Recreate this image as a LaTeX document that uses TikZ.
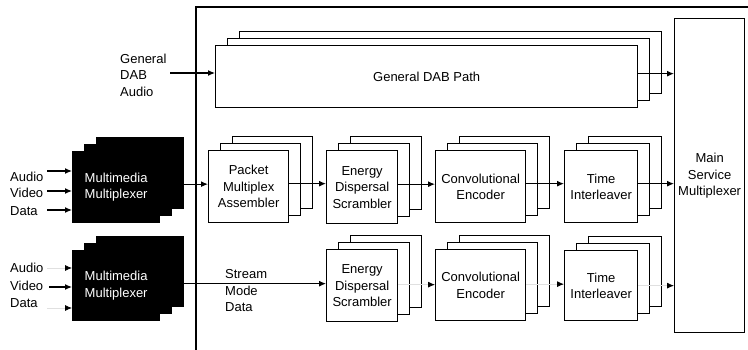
\documentclass[tikz,border=0pt]{standalone}
\usepackage{fontspec}
\setmainfont{Liberation Sans}
\usetikzlibrary{arrows.meta,shadows}
\begin{document}
\begin{tikzpicture}[x=1pt,y=-1pt,
  txt/.style={font=\fontsize{13}{16.5}\selectfont, inner sep=0pt},
  plainbox/.style={txt, draw=black, line width=1.3pt, fill=white, anchor=north west, align=center},
  stack/.style={plainbox, double copy shadow={shadow xshift=12pt, shadow yshift=7pt}},
  darkstack/.style={stack, fill=black, text=white},
  flow/.style={line width=1.2pt, -{Latex[length=7pt,width=6pt]}},
  faint/.style={line width=0.8pt, draw=black!12, -{Latex[length=7pt,width=6pt,color=black]}},
  frame/.style={line width=1.3pt},
]
\useasboundingbox (0,0) rectangle (748,350);

% enclosing frame of the transmitter
\coordinate (fbl) at (196,350);
\coordinate (ftl) at (196,7);
\coordinate (ftr) at (748,7);
\draw[frame] (fbl) -- (ftl) -- (ftr);

% general DAB path
\node[txt, anchor=west, align=left] (gda) at (120,75) {General\\DAB\\Audio};
\node[stack, minimum width=422pt, minimum height=62pt] (gdp) at (215,45) {General DAB Path};

% main service multiplexer
\node[plainbox, minimum width=70pt, minimum height=314pt] (msm) at (674,18) {Main\\Service\\Multiplexer};

% multimedia multiplexers
\node[darkstack, minimum width=87pt, minimum height=71pt] (mmx1) at (72,151) {Multimedia\\Multiplexer};
\node[darkstack, minimum width=87pt, minimum height=70pt] (mmx2) at (72,250) {Multimedia\\Multiplexer};

% packet mode chain
\node[stack, minimum width=80pt, minimum height=72pt] (pma) at (208,150) {Packet\\Multiplex\\Assembler};
\node[stack, minimum width=71pt, minimum height=73pt] (eds1) at (326,150) {Energy\\Dispersal\\Scrambler};
\node[stack, minimum width=90pt, minimum height=72pt] (cen1) at (435,150) {Convolutional\\Encoder};
\node[stack, minimum width=73pt, minimum height=72pt] (til1) at (564,150) {Time\\Interleaver};

% stream mode chain
\node[stack, minimum width=71pt, minimum height=72pt] (eds2) at (326,249) {Energy\\Dispersal\\Scrambler};
\node[stack, minimum width=90pt, minimum height=71pt] (cen2) at (435,249) {Convolutional\\Encoder};
\node[stack, minimum width=73pt, minimum height=70pt] (til2) at (564,250) {Time\\Interleaver};

% input labels
\node[txt, anchor=west] (au1) at (10,177) {Audio};
\node[txt, anchor=west] (vi1) at (10,193) {Video};
\node[txt, anchor=west] (da1) at (10,211) {Data};
\node[txt, anchor=west] (au2) at (10,268) {Audio};
\node[txt, anchor=west] (vi2) at (10,286) {Video};
\node[txt, anchor=west] (da2) at (10,303) {Data};
\node[txt, anchor=west, align=left] (smd) at (225,291) {Stream\\Mode\\Data};

% input arrows
\coordinate (ia1) at (47,171);
\coordinate (iv1) at (47,191);
\coordinate (id1) at (47,210);
\coordinate (ia2) at (47,268);
\coordinate (iv2) at (49,287);
\coordinate (id2) at (47,308);
\draw[flow] (ia1) -- (ia1 -| mmx1.west);
\draw[flow] (iv1) -- (iv1 -| mmx1.west);
\draw[flow] (id1) -- (id1 -| mmx1.west);
\draw[faint] (ia2) -- (ia2 -| mmx2.west);
\draw[flow] (iv2) -- (iv2 -| mmx2.west);
\draw[faint] (id2) -- (id2 -| mmx2.west);

% general DAB audio
\coordinate (gdain) at (170,73);
\coordinate (gdpout) at ([yshift=3pt]gdp.east);
\draw[flow] (gdain) -- (gdain -| gdp.west);
\draw[flow] (gdpout) -- (gdpout -| msm.west);

% packet mode connections (outputs leave the rear copy of each stack)
\coordinate (mx1out) at ([xshift=24pt,yshift=3pt]mmx1.east);
\coordinate (pmaout) at ([yshift=3pt]pma.east);
\coordinate (eds1out) at ([yshift=3pt]eds1.east);
\coordinate (cen1out) at ([yshift=3pt]cen1.east);
\coordinate (til1out) at ([yshift=3pt]til1.east);
\draw[flow] (mx1out) -- (mx1out -| pma.west);
\draw[flow] (pmaout) -- (pmaout -| eds1.west);
\draw[flow] (eds1out) -- (eds1out -| cen1.west);
\draw[flow] (cen1out) -- (cen1out -| til1.west);
\draw[flow] (til1out) -- (til1out -| msm.west);

% stream mode connections
\coordinate (mx2out) at ([xshift=24pt,yshift=2pt]mmx2.east);
\coordinate (eds2out) at ([yshift=1pt]eds2.east);
\coordinate (cen2out) at ([yshift=1pt]cen2.east);
\coordinate (til2out) at (til2.east);
\draw[flow, line width=1pt] (mx2out) -- (mx2out -| eds2.west);
\draw[faint] (eds2out) -- (eds2out -| cen2.west);
\draw[faint] (cen2out) -- (cen2out -| til2.west);
\draw[faint] (til2out) -- (til2out -| msm.west);
\end{tikzpicture}
\end{document}
